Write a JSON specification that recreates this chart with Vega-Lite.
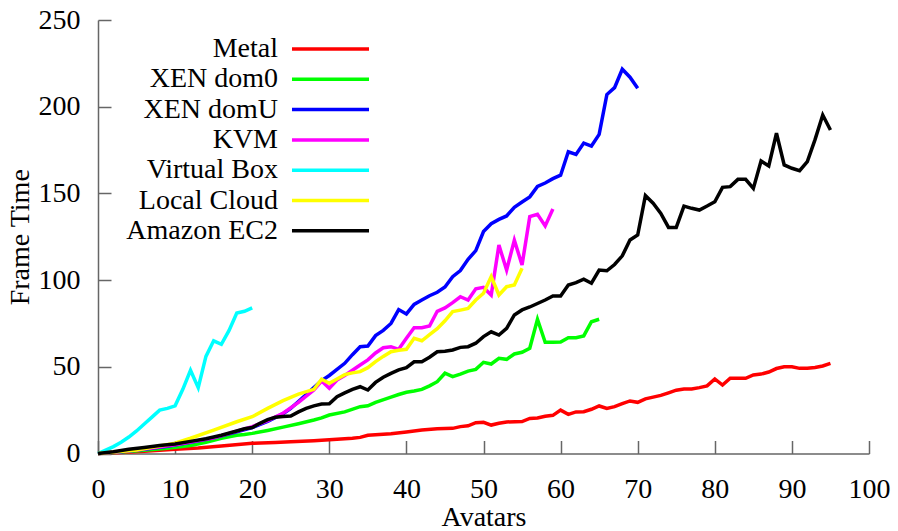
{
  "$schema": "https://vega.github.io/schema/vega-lite/v6.json",
  "width": 771,
  "height": 433.5,
  "autosize": {"type": "none"},
  "padding": {"left": 98, "top": 20, "right": 29, "bottom": 77.5},
  "background": "white",
  "config": {"view": {"stroke": null}, "font": "Liberation Serif"},
  "data": {"values": [
    {"s":"Metal","x":0,"y":0},{"s":"Metal","x":3,"y":0.6},{"s":"Metal","x":6,"y":1.3},{"s":"Metal","x":10,"y":2.4},{"s":"Metal","x":13,"y":3.2},{"s":"Metal","x":16,"y":4.3},{"s":"Metal","x":20,"y":5.9},{"s":"Metal","x":23,"y":6.4},{"s":"Metal","x":25,"y":6.8},{"s":"Metal","x":28,"y":7.4},{"s":"Metal","x":30,"y":7.9},{"s":"Metal","x":33,"y":8.8},{"s":"Metal","x":34,"y":9.3},{"s":"Metal","x":35,"y":10.5},{"s":"Metal","x":38,"y":11.4},{"s":"Metal","x":40,"y":12.4},{"s":"Metal","x":42,"y":13.5},{"s":"Metal","x":44,"y":14.3},{"s":"Metal","x":46,"y":14.5},{"s":"Metal","x":47,"y":15.5},{"s":"Metal","x":48,"y":16},{"s":"Metal","x":49,"y":17.8},{"s":"Metal","x":50,"y":18},{"s":"Metal","x":51,"y":16.4},{"s":"Metal","x":52,"y":17.4},{"s":"Metal","x":53,"y":18.2},{"s":"Metal","x":55,"y":18.4},{"s":"Metal","x":56,"y":20.2},{"s":"Metal","x":57,"y":20.5},{"s":"Metal","x":58,"y":21.5},{"s":"Metal","x":59,"y":22},{"s":"Metal","x":60,"y":25},{"s":"Metal","x":61,"y":22.6},{"s":"Metal","x":62,"y":24},{"s":"Metal","x":63,"y":24.1},{"s":"Metal","x":64,"y":25.5},{"s":"Metal","x":65,"y":27.4},{"s":"Metal","x":66,"y":26},{"s":"Metal","x":67,"y":27},{"s":"Metal","x":68,"y":28.7},{"s":"Metal","x":69,"y":30.3},{"s":"Metal","x":70,"y":29.5},{"s":"Metal","x":71,"y":31.5},{"s":"Metal","x":72,"y":32.5},{"s":"Metal","x":73,"y":33.5},{"s":"Metal","x":74,"y":35},{"s":"Metal","x":75,"y":36.5},{"s":"Metal","x":76,"y":37.2},{"s":"Metal","x":77,"y":37.2},{"s":"Metal","x":78,"y":38},{"s":"Metal","x":79,"y":39},{"s":"Metal","x":80,"y":43},{"s":"Metal","x":81,"y":39.5},{"s":"Metal","x":82,"y":43.4},{"s":"Metal","x":83,"y":43.4},{"s":"Metal","x":84,"y":43.4},{"s":"Metal","x":85,"y":45.3},{"s":"Metal","x":86,"y":45.8},{"s":"Metal","x":87,"y":47},{"s":"Metal","x":88,"y":49},{"s":"Metal","x":89,"y":50},{"s":"Metal","x":90,"y":50},{"s":"Metal","x":91,"y":49.1},{"s":"Metal","x":92,"y":49.1},{"s":"Metal","x":93,"y":49.6},{"s":"Metal","x":94,"y":50.5},{"s":"Metal","x":95,"y":52},
    {"s":"XEN dom0","x":0,"y":0},{"s":"XEN dom0","x":3,"y":0.8},{"s":"XEN dom0","x":6,"y":1.8},{"s":"XEN dom0","x":9,"y":3},{"s":"XEN dom0","x":12,"y":4.6},{"s":"XEN dom0","x":14,"y":6.5},{"s":"XEN dom0","x":16,"y":8.8},{"s":"XEN dom0","x":18,"y":10.5},{"s":"XEN dom0","x":19,"y":11},{"s":"XEN dom0","x":20,"y":11.6},{"s":"XEN dom0","x":22,"y":13.3},{"s":"XEN dom0","x":24,"y":15.2},{"s":"XEN dom0","x":26,"y":17.2},{"s":"XEN dom0","x":28,"y":19.3},{"s":"XEN dom0","x":29,"y":20.5},{"s":"XEN dom0","x":30,"y":22.2},{"s":"XEN dom0","x":32,"y":24},{"s":"XEN dom0","x":34,"y":27},{"s":"XEN dom0","x":35,"y":27.5},{"s":"XEN dom0","x":36,"y":29.5},{"s":"XEN dom0","x":38,"y":32.5},{"s":"XEN dom0","x":39,"y":34},{"s":"XEN dom0","x":40,"y":35.3},{"s":"XEN dom0","x":41,"y":36},{"s":"XEN dom0","x":42,"y":37},{"s":"XEN dom0","x":43,"y":39},{"s":"XEN dom0","x":44,"y":41.4},{"s":"XEN dom0","x":45,"y":46.3},{"s":"XEN dom0","x":46,"y":44.3},{"s":"XEN dom0","x":47,"y":45.8},{"s":"XEN dom0","x":48,"y":47.5},{"s":"XEN dom0","x":49,"y":48.5},{"s":"XEN dom0","x":50,"y":52.6},{"s":"XEN dom0","x":51,"y":51.6},{"s":"XEN dom0","x":52,"y":54.9},{"s":"XEN dom0","x":53,"y":54.3},{"s":"XEN dom0","x":54,"y":57.4},{"s":"XEN dom0","x":55,"y":58.4},{"s":"XEN dom0","x":56,"y":60.7},{"s":"XEN dom0","x":57,"y":77.4},{"s":"XEN dom0","x":58,"y":64.1},{"s":"XEN dom0","x":59,"y":64.1},{"s":"XEN dom0","x":60,"y":64.3},{"s":"XEN dom0","x":61,"y":66.8},{"s":"XEN dom0","x":62,"y":66.8},{"s":"XEN dom0","x":63,"y":67.8},{"s":"XEN dom0","x":64,"y":76},{"s":"XEN dom0","x":65,"y":77.4},
    {"s":"XEN domU","x":0,"y":0},{"s":"XEN domU","x":3,"y":1},{"s":"XEN domU","x":6,"y":2.5},{"s":"XEN domU","x":9,"y":4.2},{"s":"XEN domU","x":12,"y":6.5},{"s":"XEN domU","x":15,"y":9},{"s":"XEN domU","x":18,"y":12.5},{"s":"XEN domU","x":20,"y":15},{"s":"XEN domU","x":22,"y":18.5},{"s":"XEN domU","x":24,"y":23},{"s":"XEN domU","x":25,"y":26},{"s":"XEN domU","x":26,"y":30},{"s":"XEN domU","x":27,"y":34},{"s":"XEN domU","x":28,"y":38},{"s":"XEN domU","x":29,"y":42},{"s":"XEN domU","x":30,"y":45},{"s":"XEN domU","x":31,"y":48.5},{"s":"XEN domU","x":32,"y":52},{"s":"XEN domU","x":33,"y":57},{"s":"XEN domU","x":34,"y":61.6},{"s":"XEN domU","x":35,"y":62},{"s":"XEN domU","x":36,"y":68},{"s":"XEN domU","x":37,"y":71},{"s":"XEN domU","x":38,"y":75},{"s":"XEN domU","x":39,"y":83},{"s":"XEN domU","x":40,"y":80.5},{"s":"XEN domU","x":41,"y":86},{"s":"XEN domU","x":42,"y":88.5},{"s":"XEN domU","x":43,"y":91},{"s":"XEN domU","x":44,"y":93},{"s":"XEN domU","x":45,"y":96},{"s":"XEN domU","x":46,"y":102},{"s":"XEN domU","x":47,"y":105.5},{"s":"XEN domU","x":48,"y":112},{"s":"XEN domU","x":49,"y":117},{"s":"XEN domU","x":50,"y":128},{"s":"XEN domU","x":51,"y":132.5},{"s":"XEN domU","x":52,"y":135},{"s":"XEN domU","x":53,"y":137},{"s":"XEN domU","x":54,"y":142},{"s":"XEN domU","x":55,"y":145},{"s":"XEN domU","x":56,"y":148},{"s":"XEN domU","x":57,"y":154},{"s":"XEN domU","x":58,"y":156},{"s":"XEN domU","x":59,"y":158.5},{"s":"XEN domU","x":60,"y":160.5},{"s":"XEN domU","x":61,"y":174},{"s":"XEN domU","x":62,"y":172.5},{"s":"XEN domU","x":63,"y":179},{"s":"XEN domU","x":64,"y":177.3},{"s":"XEN domU","x":65,"y":184},{"s":"XEN domU","x":66,"y":207},{"s":"XEN domU","x":67,"y":211},{"s":"XEN domU","x":68,"y":221.6},{"s":"XEN domU","x":69,"y":217},{"s":"XEN domU","x":70,"y":210.6},
    {"s":"KVM","x":0,"y":0},{"s":"KVM","x":5,"y":2},{"s":"KVM","x":10,"y":5},{"s":"KVM","x":15,"y":9},{"s":"KVM","x":20,"y":15.5},{"s":"KVM","x":22,"y":19},{"s":"KVM","x":24,"y":23.2},{"s":"KVM","x":26,"y":29.5},{"s":"KVM","x":28,"y":36.6},{"s":"KVM","x":29,"y":41.8},{"s":"KVM","x":30,"y":37.6},{"s":"KVM","x":31,"y":42.4},{"s":"KVM","x":32,"y":45},{"s":"KVM","x":33,"y":48},{"s":"KVM","x":34,"y":51},{"s":"KVM","x":35,"y":54},{"s":"KVM","x":36,"y":58},{"s":"KVM","x":37,"y":61},{"s":"KVM","x":38,"y":61.6},{"s":"KVM","x":39,"y":60.1},{"s":"KVM","x":40,"y":66.4},{"s":"KVM","x":41,"y":72.5},{"s":"KVM","x":42,"y":72.5},{"s":"KVM","x":43,"y":73.5},{"s":"KVM","x":44,"y":82},{"s":"KVM","x":45,"y":84},{"s":"KVM","x":46,"y":87},{"s":"KVM","x":47,"y":90.4},{"s":"KVM","x":48,"y":88.5},{"s":"KVM","x":49,"y":95},{"s":"KVM","x":50,"y":95.8},{"s":"KVM","x":51,"y":91.4},{"s":"KVM","x":52,"y":120.2},{"s":"KVM","x":53,"y":105.8},{"s":"KVM","x":54,"y":123},{"s":"KVM","x":55,"y":108.7},{"s":"KVM","x":56,"y":136.6},{"s":"KVM","x":57,"y":138},{"s":"KVM","x":58,"y":131.2},{"s":"KVM","x":59,"y":141},
    {"s":"Virtual Box","x":0,"y":0},{"s":"Virtual Box","x":1,"y":2},{"s":"Virtual Box","x":2,"y":4},{"s":"Virtual Box","x":3,"y":6.5},{"s":"Virtual Box","x":4,"y":9.5},{"s":"Virtual Box","x":5,"y":13},{"s":"Virtual Box","x":6,"y":17},{"s":"Virtual Box","x":7,"y":21},{"s":"Virtual Box","x":8,"y":25},{"s":"Virtual Box","x":9,"y":26},{"s":"Virtual Box","x":10,"y":27.5},{"s":"Virtual Box","x":11,"y":37},{"s":"Virtual Box","x":12,"y":48},{"s":"Virtual Box","x":13,"y":38},{"s":"Virtual Box","x":14,"y":56},{"s":"Virtual Box","x":15,"y":65},{"s":"Virtual Box","x":16,"y":63},{"s":"Virtual Box","x":17,"y":71},{"s":"Virtual Box","x":18,"y":81},{"s":"Virtual Box","x":19,"y":82},{"s":"Virtual Box","x":20,"y":84},
    {"s":"Local Cloud","x":0,"y":0},{"s":"Local Cloud","x":5,"y":2},{"s":"Local Cloud","x":10,"y":5.9},{"s":"Local Cloud","x":12,"y":8.8},{"s":"Local Cloud","x":15,"y":13.5},{"s":"Local Cloud","x":18,"y":18.3},{"s":"Local Cloud","x":20,"y":21.2},{"s":"Local Cloud","x":22,"y":26},{"s":"Local Cloud","x":24,"y":30.5},{"s":"Local Cloud","x":26,"y":34.3},{"s":"Local Cloud","x":28,"y":37},{"s":"Local Cloud","x":29,"y":42.8},{"s":"Local Cloud","x":30,"y":40.5},{"s":"Local Cloud","x":31,"y":43},{"s":"Local Cloud","x":32,"y":45.5},{"s":"Local Cloud","x":33,"y":46.5},{"s":"Local Cloud","x":34,"y":47.2},{"s":"Local Cloud","x":35,"y":49.5},{"s":"Local Cloud","x":36,"y":53},{"s":"Local Cloud","x":37,"y":56},{"s":"Local Cloud","x":38,"y":58.7},{"s":"Local Cloud","x":39,"y":59.5},{"s":"Local Cloud","x":40,"y":60.1},{"s":"Local Cloud","x":41,"y":66.4},{"s":"Local Cloud","x":42,"y":65},{"s":"Local Cloud","x":43,"y":68.5},{"s":"Local Cloud","x":44,"y":72},{"s":"Local Cloud","x":45,"y":76.5},{"s":"Local Cloud","x":46,"y":81.8},{"s":"Local Cloud","x":47,"y":82.7},{"s":"Local Cloud","x":48,"y":83.7},{"s":"Local Cloud","x":49,"y":88.5},{"s":"Local Cloud","x":50,"y":92.4},{"s":"Local Cloud","x":51,"y":102},{"s":"Local Cloud","x":52,"y":91.4},{"s":"Local Cloud","x":53,"y":96.2},{"s":"Local Cloud","x":54,"y":97.2},{"s":"Local Cloud","x":55,"y":106.8},
    {"s":"Amazon EC2","x":0,"y":0},{"s":"Amazon EC2","x":2,"y":1},{"s":"Amazon EC2","x":4,"y":2.5},{"s":"Amazon EC2","x":6,"y":3.5},{"s":"Amazon EC2","x":8,"y":4.6},{"s":"Amazon EC2","x":10,"y":5.5},{"s":"Amazon EC2","x":12,"y":7},{"s":"Amazon EC2","x":14,"y":8.5},{"s":"Amazon EC2","x":16,"y":10.5},{"s":"Amazon EC2","x":18,"y":13},{"s":"Amazon EC2","x":19,"y":14.3},{"s":"Amazon EC2","x":20,"y":15},{"s":"Amazon EC2","x":21,"y":17.4},{"s":"Amazon EC2","x":22,"y":19.5},{"s":"Amazon EC2","x":23,"y":20.9},{"s":"Amazon EC2","x":24,"y":21.3},{"s":"Amazon EC2","x":25,"y":21.6},{"s":"Amazon EC2","x":26,"y":24},{"s":"Amazon EC2","x":27,"y":26},{"s":"Amazon EC2","x":28,"y":27.5},{"s":"Amazon EC2","x":29,"y":28.5},{"s":"Amazon EC2","x":30,"y":28.7},{"s":"Amazon EC2","x":31,"y":32.8},{"s":"Amazon EC2","x":32,"y":35},{"s":"Amazon EC2","x":33,"y":37},{"s":"Amazon EC2","x":34,"y":38.5},{"s":"Amazon EC2","x":35,"y":36.6},{"s":"Amazon EC2","x":36,"y":41},{"s":"Amazon EC2","x":37,"y":44},{"s":"Amazon EC2","x":38,"y":46.2},{"s":"Amazon EC2","x":39,"y":48.2},{"s":"Amazon EC2","x":40,"y":49.5},{"s":"Amazon EC2","x":41,"y":52.9},{"s":"Amazon EC2","x":42,"y":52.9},{"s":"Amazon EC2","x":43,"y":55.5},{"s":"Amazon EC2","x":44,"y":58.7},{"s":"Amazon EC2","x":45,"y":59},{"s":"Amazon EC2","x":46,"y":59.7},{"s":"Amazon EC2","x":47,"y":61.2},{"s":"Amazon EC2","x":48,"y":61.6},{"s":"Amazon EC2","x":49,"y":63.6},{"s":"Amazon EC2","x":50,"y":67.4},{"s":"Amazon EC2","x":51,"y":70.2},{"s":"Amazon EC2","x":52,"y":68.3},{"s":"Amazon EC2","x":53,"y":72.2},{"s":"Amazon EC2","x":54,"y":79.9},{"s":"Amazon EC2","x":55,"y":82.8},{"s":"Amazon EC2","x":56,"y":84.5},{"s":"Amazon EC2","x":57,"y":86.5},{"s":"Amazon EC2","x":58,"y":88.5},{"s":"Amazon EC2","x":59,"y":90.8},{"s":"Amazon EC2","x":60,"y":90.8},{"s":"Amazon EC2","x":61,"y":97.2},{"s":"Amazon EC2","x":62,"y":98.5},{"s":"Amazon EC2","x":63,"y":100.5},{"s":"Amazon EC2","x":64,"y":98.2},{"s":"Amazon EC2","x":65,"y":105.8},{"s":"Amazon EC2","x":66,"y":105.4},{"s":"Amazon EC2","x":67,"y":109},{"s":"Amazon EC2","x":68,"y":114},{"s":"Amazon EC2","x":69,"y":123.1},{"s":"Amazon EC2","x":70,"y":126},{"s":"Amazon EC2","x":71,"y":148.7},{"s":"Amazon EC2","x":72,"y":144.3},{"s":"Amazon EC2","x":73,"y":138.5},{"s":"Amazon EC2","x":74,"y":130.4},{"s":"Amazon EC2","x":75,"y":130.4},{"s":"Amazon EC2","x":76,"y":142.7},{"s":"Amazon EC2","x":77,"y":141.4},{"s":"Amazon EC2","x":78,"y":140.4},{"s":"Amazon EC2","x":79,"y":142.7},{"s":"Amazon EC2","x":80,"y":145.2},{"s":"Amazon EC2","x":81,"y":153.5},{"s":"Amazon EC2","x":82,"y":153.9},{"s":"Amazon EC2","x":83,"y":158.1},{"s":"Amazon EC2","x":84,"y":158.1},{"s":"Amazon EC2","x":85,"y":152.9},{"s":"Amazon EC2","x":86,"y":168.7},{"s":"Amazon EC2","x":87,"y":165.8},{"s":"Amazon EC2","x":88,"y":184.7},{"s":"Amazon EC2","x":89,"y":166.4},{"s":"Amazon EC2","x":90,"y":164.5},{"s":"Amazon EC2","x":91,"y":163.1},{"s":"Amazon EC2","x":92,"y":168.3},{"s":"Amazon EC2","x":93,"y":181},{"s":"Amazon EC2","x":94,"y":195.2},{"s":"Amazon EC2","x":95,"y":186.6}
  ]},
  "mark": {"type": "line", "strokeWidth": 3.5},
  "encoding": {
    "x": {
      "field": "x", "type": "quantitative",
      "scale": {"domain": [0, 100], "nice": false},
      "axis": {
        "title": "Avatars", "values": [0,10,20,30,40,50,60,70,80,90,100],
        "grid": false, "tickSize": -13, "labelPadding": 35, "labelFlush": false,
        "domainColor": "#666666", "tickColor": "#666666", "domainWidth": 1.5, "tickWidth": 1.5,
        "labelFontSize": 28, "labelColor": "black", "labelFont": "Liberation Serif",
        "titleFontSize": 28, "titleFontWeight": "normal", "titleColor": "black", "titleFont": "Liberation Serif", "titlePadding": 0
      }
    },
    "y": {
      "field": "y", "type": "quantitative",
      "scale": {"domain": [0, 250], "nice": false},
      "axis": {
        "title": "Frame Time", "values": [0,50,100,150,200,250],
        "grid": false, "tickSize": -13, "labelPadding": 31, "labelFlush": false,
        "domainColor": "#666666", "tickColor": "#666666", "domainWidth": 1.5, "tickWidth": 1.5,
        "labelFontSize": 28, "labelColor": "black", "labelFont": "Liberation Serif",
        "titleFontSize": 28, "titleFontWeight": "normal", "titleColor": "black", "titleFont": "Liberation Serif", "titlePadding": 4
      }
    },
    "color": {
      "field": "s", "type": "nominal",
      "scale": {
        "domain": ["Metal", "XEN dom0", "XEN domU", "KVM", "Virtual Box", "Local Cloud", "Amazon EC2"],
        "range": ["#ff0000", "#00ff00", "#0000ff", "#ff00ff", "#00ffff", "#ffff00", "#000000"]
      },
      "legend": {
        "orient": "none", "legendX": 217.5, "legendY": 14, "title": null,
        "symbolType": "M-3,0H3", "symbolSize": 659, "symbolStrokeWidth": 3.5,
        "labelFontSize": 28, "labelFont": "Liberation Serif", "labelColor": "black",
        "labelAlign": "right", "labelOffset": -67.5, "labelLimit": 400,
        "rowPadding": 1.3, "padding": 0
      }
    }
  }
}
